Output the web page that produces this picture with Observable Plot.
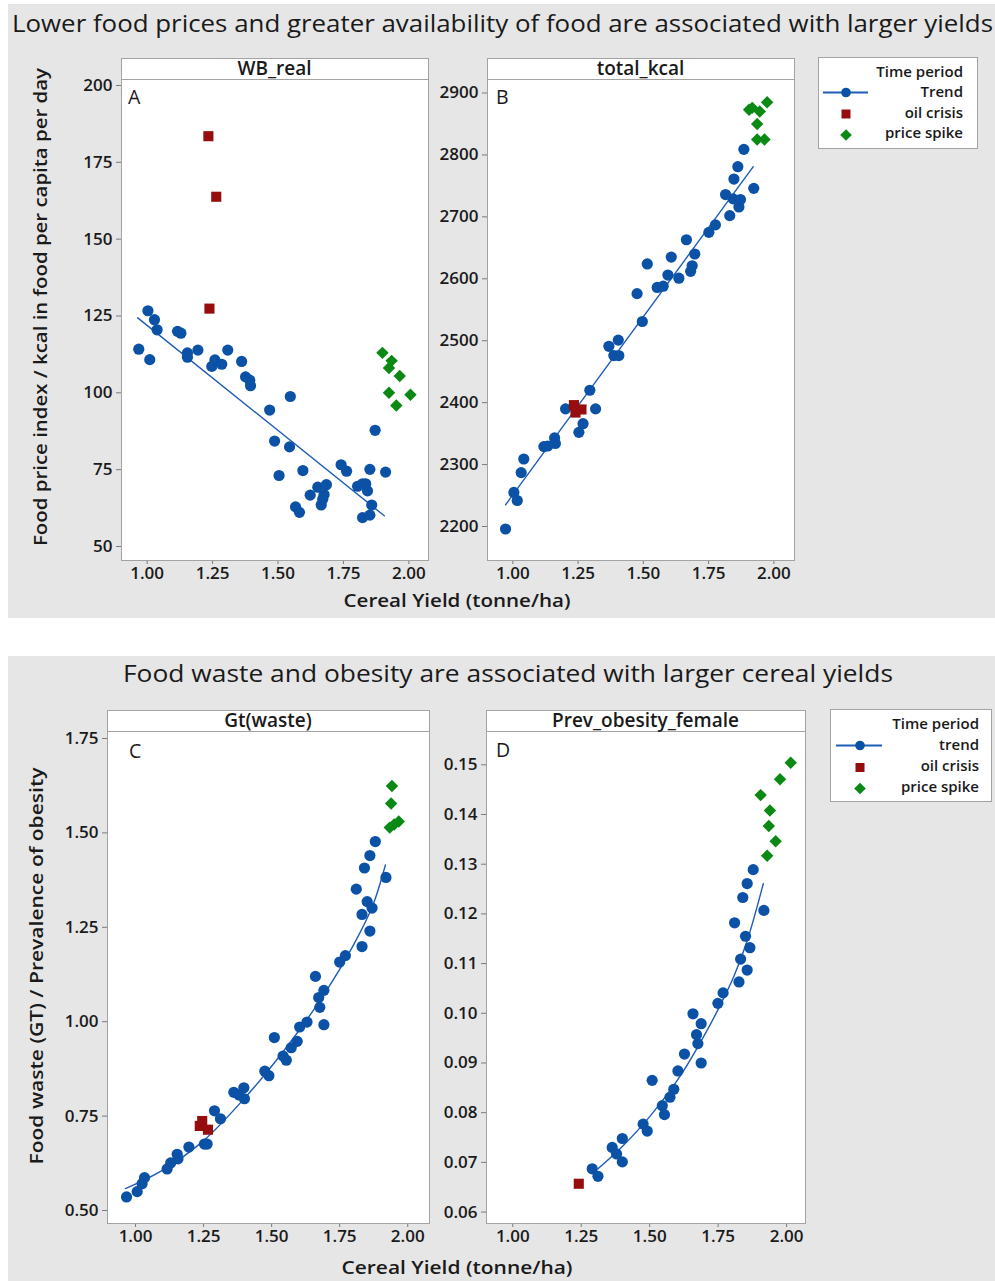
<!DOCTYPE html>
<html><head><meta charset="utf-8">
<script src="https://cdn.jsdelivr.net/npm/d3@7"></script>
<script src="https://cdn.jsdelivr.net/npm/@observablehq/plot@0.6"></script>
<style>
body{margin:0;background:#fff;font-family:"Open Sans",sans-serif}
#root{position:relative;width:995px;height:1281px;overflow:hidden;background:#fff}
.bg{position:absolute;background:#e6e6e6}
#ov{position:absolute;left:0;top:0;pointer-events:none}
</style></head><body>
<div id="root">
  <div class="bg" style="left:8px;top:4px;width:987px;height:614px"></div>
  <div class="bg" style="left:8px;top:656px;width:987px;height:625px"></div>
</div>
<script>
// ---------- DATA ----------
const xTicks = [1.00, 1.25, 1.50, 1.75, 2.00];

// Panel A: WB_real (food price index)
const aTrendX = [0.968,1.003,1.010,1.028,1.038,1.116,1.129,1.154,1.154,1.194,1.247,1.259,1.285,1.308,1.361,1.376,1.392,1.395,1.468,1.547,1.487,1.504,1.544,1.567,1.582,1.595,1.623,1.652,1.665,1.671,1.676,1.685,1.741,1.762,1.804,1.823,1.835,1.842,1.823,1.851,1.858,1.851,1.871,1.911];
const aTrendY = [114.2,126.7,110.8,123.8,120.5,120.0,119.4,113.0,111.6,113.9,108.6,110.7,109.3,113.9,110.2,105.2,104.1,102.3,94.4,98.8,84.3,73.1,82.4,62.9,61.1,74.7,66.7,69.3,63.5,65.4,66.9,70.1,76.6,74.5,69.6,70.4,70.4,68.1,59.4,60.2,63.5,75.1,87.8,74.2];
const aOilX = [1.234,1.264,1.238];
const aOilY = [183.5,163.8,127.4];
const aSpikeX = [1.899,1.934,1.924,1.965,1.924,2.006,1.952];
const aSpikeY = [113.0,110.4,108.1,105.5,100.0,99.4,95.9];
const aFitX = [0.964,1.906];
const aFitY = [124.4,60.0];
const aYTicks = [50,75,100,125,150,175,200];

// Panel B: total_kcal
const bTrendX = [0.972,1.004,1.017,1.032,1.042,1.119,1.134,1.160,1.163,1.202,1.253,1.269,1.295,1.317,1.368,1.387,1.404,1.406,1.476,1.496,1.515,1.553,1.576,1.594,1.607,1.636,1.665,1.681,1.687,1.697,1.751,1.776,1.815,1.831,1.844,1.847,1.862,1.866,1.872,1.885,1.923];
const bTrendY = [2196,2255,2242,2287,2309,2329,2330,2343,2334,2390,2352,2366,2420,2390,2491,2476,2501,2476,2576,2531,2624,2586,2588,2606,2635,2601,2663,2612,2621,2640,2675,2687,2736,2702,2729,2761,2781,2716,2728,2809,2746];
const bOilX = [1.234,1.263,1.240];
const bOilY = [2396,2389,2384];
const bSpikeX = [1.905,1.917,1.946,1.974,1.936,1.936,1.964];
const bSpikeY = [2873,2876,2870,2885,2850,2825,2825];
const bFitX = [0.972,1.921];
const bFitY = [2235,2781];
const bYTicks = [2200,2300,2400,2500,2600,2700,2800,2900];

// Panel C: Gt(waste)
const cTrendX = [0.967,1.006,1.024,1.033,1.116,1.129,1.153,1.156,1.196,1.253,1.263,1.290,1.312,1.361,1.380,1.398,1.400,1.475,1.490,1.510,1.542,1.554,1.572,1.594,1.603,1.630,1.661,1.673,1.677,1.692,1.692,1.750,1.771,1.811,1.832,1.832,1.841,1.851,1.861,1.861,1.869,1.881,1.920];
const cTrendY = [0.536,0.550,0.571,0.587,0.610,0.626,0.649,0.637,0.668,0.676,0.676,0.764,0.743,0.813,0.806,0.825,0.796,0.869,0.857,0.958,0.909,0.898,0.931,0.948,0.986,0.999,1.120,1.064,1.038,1.083,0.992,1.158,1.175,1.351,1.199,1.284,1.407,1.318,1.240,1.440,1.301,1.477,1.382];
const cOilX = [1.236,1.245,1.266];
const cOilY = [0.724,0.737,0.714];
const cSpikeX = [1.942,1.939,1.934,1.967,1.950];
const cSpikeY = [1.624,1.578,1.514,1.530,1.522];
const cFitX = [0.963,1.10,1.25,1.40,1.50,1.60,1.70,1.80,1.87,1.918];
const cFitY = [0.558,0.607,0.685,0.797,0.882,0.976,1.080,1.202,1.305,1.415];
const cYTicks = [0.50,0.75,1.00,1.25,1.50,1.75];

// Panel D: Prev_obesity_female
const dTrendX = [1.290,1.311,1.363,1.379,1.400,1.400,1.476,1.491,1.509,1.546,1.554,1.574,1.588,1.603,1.627,1.658,1.671,1.676,1.688,1.688,1.749,1.768,1.810,1.826,1.832,1.840,1.850,1.856,1.856,1.866,1.878,1.917];
const dTrendY = [0.0687,0.0672,0.0730,0.0717,0.0748,0.0701,0.0777,0.0763,0.0865,0.0814,0.0796,0.0831,0.0847,0.0884,0.0918,0.0999,0.0957,0.0939,0.0979,0.0900,0.1020,0.1041,0.1182,0.1063,0.1109,0.1233,0.1155,0.1087,0.1261,0.1132,0.1289,0.1207];
const dOilX = [1.241];
const dOilY = [0.0657];
const dSpikeX = [1.905,1.939,1.935,1.960,1.929,1.976,2.015];
const dSpikeY = [0.1439,0.1408,0.1377,0.1346,0.1317,0.1471,0.1504];
const dFitX = [1.311,1.400,1.497,1.613,1.710,1.759,1.808,1.856,1.915];
const dFitY = [0.0687,0.0732,0.0790,0.0875,0.0966,0.1018,0.1075,0.1146,0.1261];
const dYTicks = [0.06,0.07,0.08,0.09,0.10,0.11,0.12,0.13,0.14,0.15];

// ---------- STYLE ----------
const FONT = '"Open Sans", sans-serif';
const TXT = "#1a1a1a";
const TICK = "#7a7a7a";
const FRAME = "#a3a3a3";
const BLUE = "#0b52a6";
const LINE = "#1d5db6";
const RED = "#960d0d";
const GREEN = "#0a8a14";

const root = document.getElementById("root");

function panel(cfg) {
  const ML = 62, MR = 2, MT = 2, MB = 32;
  const [x0, y0, x1, y1] = cfg.frame;
  const fw = x1 - x0, ph = y1 - y0;
  const chart = Plot.plot({
    width: ML + fw + MR, height: MT + ph + MB,
    marginLeft: ML, marginRight: MR, marginTop: MT, marginBottom: MB,
    x: {domain: cfg.xDomain},
    y: {domain: cfg.yDomain},
    style: {fontFamily: FONT, background: "none", overflow: "visible"},
    marks: [
      Plot.frame({fill: "white"}),
      Plot.axisX({ticks: xTicks, tickFormat: d3.format(".2f"), tickSize: 4, tickPadding: 2,
        fontSize: 17, fontWeight: 600, fill: TXT, stroke: TICK, label: null}),
      Plot.axisY({ticks: cfg.yTicks, tickFormat: cfg.yFormat, tickSize: 5, tickPadding: 4,
        fontSize: 17, fontWeight: 600, fill: TXT, stroke: TICK, label: null}),
      Plot.line(cfg.fitX, {x: cfg.fitX, y: cfg.fitY, stroke: LINE, strokeWidth: 1.4, curve: cfg.curve}),
      Plot.dot(cfg.tx, {x: cfg.tx, y: cfg.ty, r: 5.6, fill: BLUE, symbol: "circle"}),
      Plot.dot(cfg.ox, {x: cfg.ox, y: cfg.oy, r: 5.7, fill: RED, symbol: "square"}),
      Plot.dot(cfg.sx, {x: cfg.sx, y: cfg.sy, r: 5.6, fill: GREEN, symbol: "diamond2"}),
      Plot.frame({stroke: FRAME})
    ]
  });
  chart.style.position = "absolute";
  chart.style.left = (x0 - ML) + "px";
  chart.style.top = (y0 - MT) + "px";
  root.appendChild(chart);
}

panel({frame: [121, 79, 428, 560], xDomain: [0.902, 2.075], yDomain: [45.44, 201.95],
  yTicks: aYTicks, yFormat: d3.format("d"), fitX: aFitX, fitY: aFitY, curve: "linear",
  tx: aTrendX, ty: aTrendY, ox: aOilX, oy: aOilY, sx: aSpikeX, sy: aSpikeY});
panel({frame: [487, 79, 794, 560], xDomain: [0.903, 2.079], yDomain: [2145.1, 2921.8],
  yTicks: bYTicks, yFormat: d3.format("d"), fitX: bFitX, fitY: bFitY, curve: "linear",
  tx: bTrendX, ty: bTrendY, ox: bOilX, oy: bOilY, sx: bSpikeX, sy: bSpikeY});
panel({frame: [107, 731, 429, 1223], xDomain: [0.897, 2.080], yDomain: [0.4656, 1.7685],
  yTicks: cYTicks, yFormat: d3.format(".2f"), fitX: cFitX, fitY: cFitY, curve: "catmull-rom",
  tx: cTrendX, ty: cTrendY, ox: cOilX, oy: cOilY, sx: cSpikeX, sy: cSpikeY});
panel({frame: [486, 731, 805, 1223], xDomain: [0.904, 2.069], yDomain: [0.0577, 0.1567],
  yTicks: dYTicks, yFormat: d3.format(".2f"), fitX: dFitX, fitY: dFitY, curve: "catmull-rom",
  tx: dTrendX, ty: dTrendY, ox: dOilX, oy: dOilY, sx: dSpikeX, sy: dSpikeY});

// ---------- OVERLAY TEXT / STRIPS / LEGENDS ----------
const NS = "http://www.w3.org/2000/svg";
const ov = document.createElementNS(NS, "svg");
ov.setAttribute("id", "ov");
ov.setAttribute("width", 995);
ov.setAttribute("height", 1281);
ov.style.fontFamily = FONT;
root.appendChild(ov);

function el(tag, attrs, text) {
  const e = document.createElementNS(NS, tag);
  for (const k in attrs) e.setAttribute(k, attrs[k]);
  if (text != null) e.textContent = text;
  ov.appendChild(e);
  return e;
}

// titles
el("text", {x: 12, y: 32, "font-size": 24, "font-weight": 500, fill: TXT, textLength: 981, lengthAdjust: "spacingAndGlyphs"},
  "Lower food prices and greater availability of food are associated with larger yields");
el("text", {x: 123, y: 682, "font-size": 24, "font-weight": 500, fill: TXT, textLength: 770, lengthAdjust: "spacingAndGlyphs"},
  "Food waste and obesity are associated with larger cereal yields");

// axis titles
el("text", {transform: "translate(47,307) rotate(-90)", "text-anchor": "middle", "font-size": 18.5, "font-weight": 600,
  fill: TXT, textLength: 478, lengthAdjust: "spacingAndGlyphs"}, "Food price index / kcal in food per capita per day");
el("text", {transform: "translate(43,966) rotate(-90)", "text-anchor": "middle", "font-size": 18.5, "font-weight": 600,
  fill: TXT, textLength: 397, lengthAdjust: "spacingAndGlyphs"}, "Food waste (GT) / Prevalence of obesity");
el("text", {x: 457, y: 607, "text-anchor": "middle", "font-size": 18.5, "font-weight": 600, fill: TXT,
  textLength: 227, lengthAdjust: "spacingAndGlyphs"}, "Cereal Yield (tonne/ha)");
el("text", {x: 457, y: 1274, "text-anchor": "middle", "font-size": 18.5, "font-weight": 600, fill: TXT,
  textLength: 231, lengthAdjust: "spacingAndGlyphs"}, "Cereal Yield (tonne/ha)");

// strips
const strips = [
  [121, 58, 428, "WB_real"], [487, 58, 794, "total_kcal"],
  [107, 710, 429, "Gt(waste)"], [486, 710, 805, "Prev_obesity_female"]
];
for (const [x0, y0, x1, lab] of strips) {
  el("rect", {x: x0 + 0.5, y: y0 + 0.5, width: x1 - x0, height: 21, fill: "white", stroke: FRAME});
  el("text", {x: (x0 + x1) / 2, y: y0 + 16.5, "text-anchor": "middle", "font-size": 19, "font-weight": 600, fill: TXT}, lab);
}

// panel letters
for (const [x, y, t] of [[128, 104, "A"], [496, 104, "B"], [129, 758, "C"], [496, 757, "D"]]) {
  el("text", {x, y, "font-size": 19.5, fill: TXT}, t);
}

// legends
function legend(bx, by, bw, bh, tx, ys, sx, lx0, lx1, labels) {
  el("rect", {x: bx + 0.5, y: by + 0.5, width: bw, height: bh, fill: "white", stroke: FRAME});
  labels.forEach((t, i) => el("text", {x: tx, y: ys[i], "text-anchor": "end", "font-size": 15, "font-weight": 600, fill: TXT}, t));
  const ly = ys[1] - 4.5;
  el("line", {x1: lx0, x2: lx1, y1: ly, y2: ly, stroke: LINE, "stroke-width": 2});
  el("circle", {cx: sx, cy: ly, r: 4.8, fill: BLUE});
  const sy = ys[2] - 3.5;
  el("rect", {x: sx - 4.5, y: sy - 4.5, width: 9, height: 9, fill: RED});
  const dy = ys[3] - 3;
  el("path", {d: `M${sx},${dy - 5.8}L${sx + 5.8},${dy}L${sx},${dy + 5.8}L${sx - 5.8},${dy}Z`, fill: GREEN});
}
legend(818, 57, 159, 91, 963, [76.5, 97, 117.5, 138], 846, 823, 868, ["Time period", "Trend", "oil crisis", "price spike"]);
legend(830, 709, 161, 92, 979, [728.5, 750, 771, 791.5], 860, 836, 882, ["Time period", "trend", "oil crisis", "price spike"]);
</script>
</body></html>
